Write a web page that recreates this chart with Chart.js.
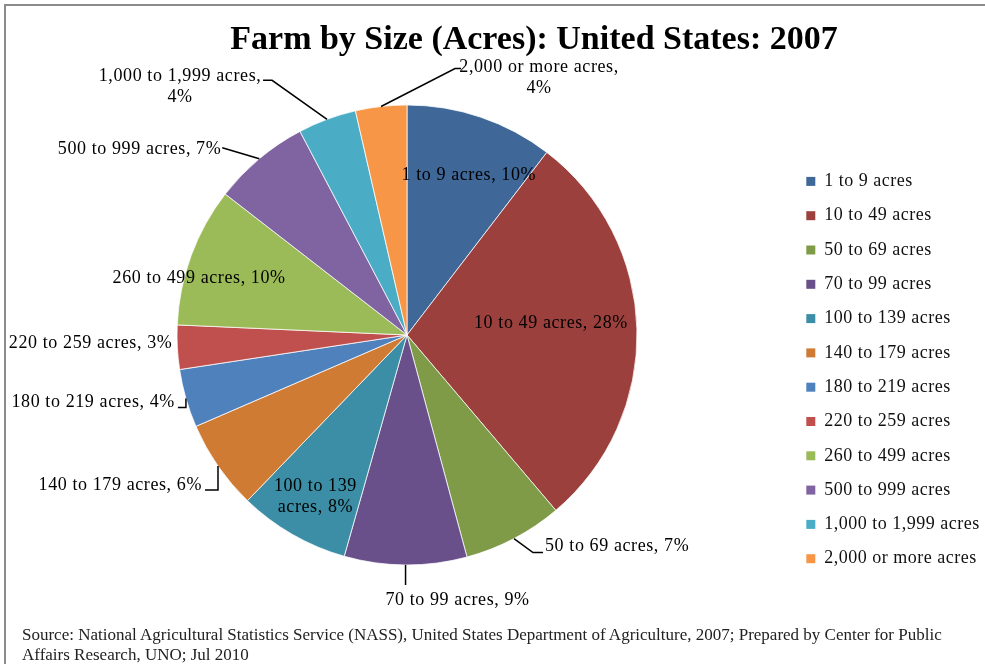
<!DOCTYPE html>
<html>
<head>
<meta charset="utf-8">
<script src="https://cdn.jsdelivr.net/npm/chart.js@4.4.1/dist/chart.umd.min.js"></script>
<style>
  html, body { margin: 0; padding: 0; background: #fff; overflow: hidden; }
  #frame { position: absolute; left: 4px; top: 4px; width: 1000px; height: 700px; border: 2px solid #8c8c8c; }
  #title { position: absolute; left: 534px; top: 21px; transform: translateX(-50%); white-space: nowrap;
           font: bold 34px "Liberation Serif", serif; line-height: 34px; color: #000; }
  #source { position: absolute; left: 22px; top: 625px; font: 17px "Liberation Serif", serif; line-height: 20px; color: #222; white-space: nowrap; }
  #myChart { position: absolute; left: 0; top: 0; }
</style>
</head>
<body>
<div id="frame"></div>
<canvas id="myChart" width="985" height="664"></canvas>
<div id="title">Farm by Size (Acres): United States: 2007</div>
<div id="source">Source: National Agricultural Statistics Service (NASS), United States Department of Agriculture, 2007; Prepared by Center for Public<br>Affairs Research, UNO; Jul 2010</div>
<script>
const categories = ['1 to 9 acres', '10 to 49 acres', '50 to 69 acres', '70 to 99 acres',
  '100 to 139 acres', '140 to 179 acres', '180 to 219 acres', '220 to 259 acres',
  '260 to 499 acres', '500 to 999 acres', '1,000 to 1,999 acres', '2,000 or more acres']
// share of farms, percent
const shares = [10.4, 28.4, 7.0, 8.6, 7.8, 6.3, 4.1, 3.1, 9.8, 6.8, 4.1, 3.6]
const sliceColors = ['#3f6797', '#9b403d', '#7f9b48', '#69508a', '#3b8ea5', '#cf7b34',
  '#4f81bd', '#c0504d', '#9bbb59', '#8064a2', '#4bacc6', '#f79646']

// where each slice label sits, relative to the rim point at the slice middle
const labelPlacement = [
  { text: [-12, 58] },
  { text: [-86, -6] },
  { leader: [[19, 14], [29, 14]], text: [31, 8], align: 'left' },
  { leader: [[0, 20]], text: [52, 35] },
  { text: [23, -38], breakAfter: 3 },
  { leader: [[0, 24], [-13, 24]], text: [-16, 19], align: 'right' },
  { leader: [[0, 9], [-8, 9]], text: [-11, 4], align: 'right' },
  { text: [-5, -4], align: 'right' },
  { text: [8, 23] },
  { leader: [[-37, -11]], text: [-38, -9], align: 'right' },
  { leader: [[-55, -39], [-64, -39]], text: [-147, -33], breakAfter: 4 },
  { leader: [[74, -38], [80, -38]], text: [158, -29], breakAfter: 4 }
]

// the original text is set a little loose (also while the legend is measured)
const looseText = {
  id: 'looseText',
  beforeUpdate(chart) { chart.ctx.letterSpacing = '0.5px' },
  beforeDraw(chart) { chart.ctx.letterSpacing = '0.5px' }
}

const sliceLabels = {
  id: 'sliceLabels',
  afterDatasetsDraw(chart) {
    const ctx = chart.ctx
    const arcs = chart.getDatasetMeta(0).data
    const total = shares.reduce((a, b) => a + b, 0)
    ctx.save()
    ctx.font = '18px "Liberation Serif", serif'
    ctx.letterSpacing = '0.6px'
    ctx.fillStyle = '#000'
    ctx.strokeStyle = '#000'
    ctx.lineWidth = 1.5
    ctx.textBaseline = 'middle'
    arcs.forEach((arc, i) => {
      const p = labelPlacement[i]
      const mid = (arc.startAngle + arc.endAngle) / 2
      const ex = arc.x + Math.cos(mid) * arc.outerRadius
      const ey = arc.y + Math.sin(mid) * arc.outerRadius
      if (p.leader) {
        ctx.beginPath()
        ctx.moveTo(ex, ey)
        p.leader.forEach(([dx, dy]) => ctx.lineTo(ex + dx, ey + dy))
        ctx.stroke()
      }
      const words = (categories[i] + ', ' + Math.round(shares[i] / total * 100) + '%').split(' ')
      const lines = p.breakAfter
        ? [words.slice(0, p.breakAfter).join(' '), words.slice(p.breakAfter).join(' ')]
        : [words.join(' ')]
      ctx.textAlign = p.align || 'center'
      lines.forEach((ln, k) => {
        ctx.fillText(ln, ex + p.text[0], ey + p.text[1] + (k - (lines.length - 1) / 2) * 21)
      })
    })
    ctx.restore()
  }
}

const data = {
  labels: categories,
  datasets: [{
    data: shares,
    backgroundColor: sliceColors,
    borderColor: '#ffffff',
    borderWidth: 0.75,
    radius: 230
  }]
}

const config = {
  type: 'pie',
  data,
  options: {
    responsive: false,
    animation: false,
    layout: { padding: { left: 24, right: 0, top: 86, bottom: 80 } },
    plugins: {
      tooltip: { enabled: false },
      legend: {
        position: 'right',
        align: 'end',
        maxWidth: 195,
        labels: {
          boxWidth: 9,
          boxHeight: 9,
          padding: 16.3,
          color: '#111',
          font: { family: '"Liberation Serif", serif', size: 18 },
          generateLabels: (chart) => Chart.overrides.pie.plugins.legend.labels.generateLabels(chart)
            .map(item => ({ ...item, lineWidth: 0 }))
        }
      }
    }
  },
  plugins: [looseText, sliceLabels]
}

const myChart = new Chart(document.querySelector('#myChart'), config)
</script>
</body>
</html>
